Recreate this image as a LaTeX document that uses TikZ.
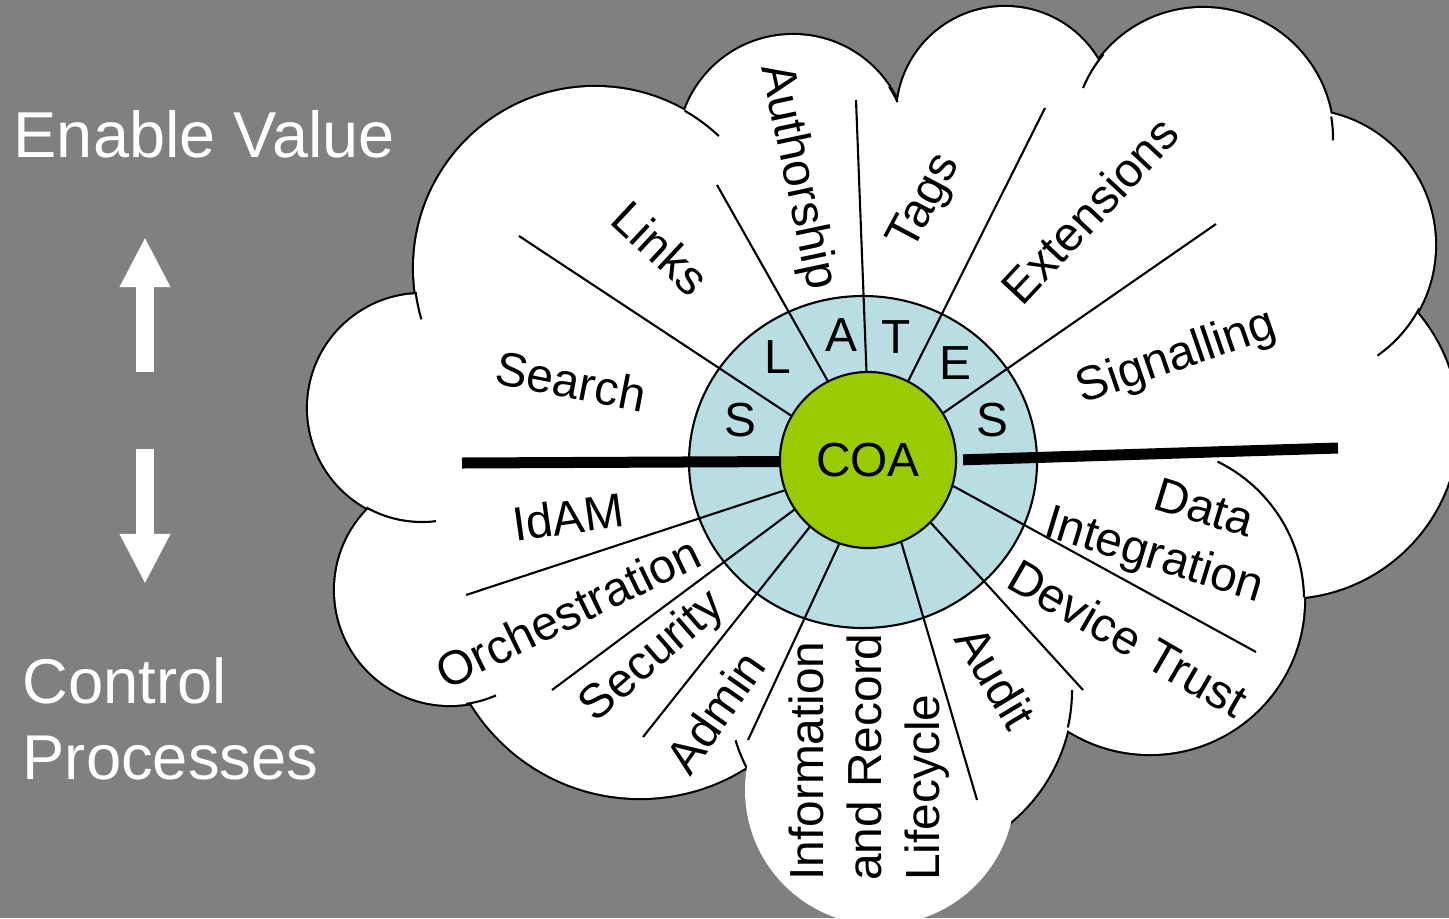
\documentclass[tikz,border=0pt]{standalone}
\usepackage{fontspec}
\setmainfont{Liberation Sans}
\usetikzlibrary{arrows.meta}
\definecolor{bggray}{RGB}{128,128,128}
\definecolor{ringblue}{RGB}{184,222,227}
\definecolor{coagreen}{RGB}{153,204,0}

\begin{document}
\begin{tikzpicture}[x=0.01cm, y=0.01cm,
    rim/.style = {line width=0.6pt},
    spoke/.style = {line width=0.6pt},
    bar/.style = {line width=0.11cm},
    lbl/.style = {inner sep=0pt, font=\fontsize{13.6}{16.6}\selectfont},
    side/.style = {inner sep=0pt, text=white, font=\fontsize{18}{21.6}\selectfont},
    updown/.style = {white, line width=0.18cm, -{Triangle[width=0.47cm, length=0.5cm]}}]

  \useasboundingbox (0,0) rectangle (1449,-918);
  \fill[bggray] (0,0) rectangle (1449,-918);
  \clip (0,0) rectangle (1449,-918);

  % the cloud
  \coordinate (c1) at (450,-590);
  \coordinate (c2) at (422,-408);
  \coordinate (c3) at (595,-268);
  \coordinate (c4) at (793,-150);
  \coordinate (c5) at (1005,-115);
  \coordinate (c6) at (1203,-138);
  \coordinate (c7) at (1300,-245);
  \coordinate (c8) at (1285,-425);
  \coordinate (c9) at (1150,-600);
  \coordinate (c10) at (900,-690);
  \coordinate (c11) at (640,-600);
  \draw[line width=1.2pt] (c1) circle (115) (c2) circle (114) (c3) circle (181)
    (c4) circle (115) (c5) circle (108) (c6) circle (130) (c7) circle (135)
    (c8) circle (173) (c9) circle (154) (c10) circle (172) (c11) circle (198);
  \fill[white] (c1) circle (115) (c2) circle (114) (c3) circle (181)
    (c4) circle (115) (c5) circle (108) (c6) circle (130) (c7) circle (135)
    (c8) circle (173) (c9) circle (154) (c10) circle (172) (c11) circle (198);
  \fill[white] (c2) -- (c3) -- (c4) -- (c5) -- (c6) -- (c7) -- (c8) -- (c9)
    -- (c10) -- (c11) -- (c1) -- cycle;
  \draw[rim] (c3) ++(187.6:181) arc[start angle=187.6, end angle=196.5, radius=181];
  \draw[rim] (c3) ++(60.3:181) arc[start angle=60.3, end angle=46.8, radius=181];
  \draw[rim] (c4) ++(33.3:115) arc[start angle=33.3, end angle=24.6, radius=115];
  \draw[rim] (c6) ++(140:130) arc[start angle=140, end angle=157.4, radius=130];
  \draw[rim] (c6) ++(9.5:130) arc[start angle=9.5, end angle=-1, radius=130];
  \draw[rim] (c7) ++(-28:135) arc[start angle=-28, end angle=-55, radius=135];
  \draw[rim] (c9) ++(1:154) arc[start angle=1, end angle=64, radius=154];
  \draw[rim] (c10) ++(-12.6:172) arc[start angle=-12.6, end angle=0, radius=172];
  \draw[rim] (c10) ++(209.6:172) arc[start angle=209.6, end angle=197, radius=172];
  \draw[rim] (c2) ++(240.8:114) arc[start angle=240.8, end angle=277, radius=114];
  \draw[rim] (c1) ++(-81.9:115) arc[start angle=-81.9, end angle=-66.4, radius=115];
  \fill[white] (880,-790) circle (135);

  % ring and centre
  \draw[rim, fill=ringblue] (863,-462) ellipse [x radius=174, y radius=166];
  \node[lbl, rim, circle, draw, fill=coagreen, minimum size=1.76cm] (coa) at (868,-460) {COA};

  \coordinate (end1) at (519,-236);
  \coordinate (end2) at (717,-185);
  \coordinate (end3) at (856,-100);
  \coordinate (end4) at (1045,-108);
  \coordinate (end5) at (1216,-224);
  \coordinate (end6) at (1256,-652);
  \coordinate (end7) at (1083,-690);
  \coordinate (end8) at (977,-800);
  \coordinate (end9) at (748,-740);
  \coordinate (end10) at (643,-737);
  \coordinate (end11) at (552,-690);
  \coordinate (end12) at (466,-595);
  \draw[spoke] (coa.150) -- (end1);
  \draw[spoke] (coa.117) -- (end2);
  \draw[spoke] (coa.91) -- (end3);
  \draw[spoke] (coa.63) -- (end4);
  \draw[spoke] (coa.32) -- (end5);
  \draw[spoke] (coa.-17) -- (end6);
  \draw[spoke] (coa.-45) -- (end7);
  \draw[spoke] (coa.-68) -- (end8);
  \draw[spoke] (coa.251) -- (end9);
  \draw[spoke] (coa.229) -- (end10);
  \draw[spoke] (coa.214) -- (end11);
  \draw[spoke] (coa.200) -- (end12);

  \coordinate (barleft) at (462,-463);
  \coordinate (barright) at (1338,-448);
  \draw[bar] (barleft) -- (coa.181);
  \draw[bar, shorten <=1.7pt] (coa.0) -- (barright);

  % SLATES
  \node[lbl] (s1) at (740,-420) {S};
  \node[lbl] (l) at (778,-357) {L};
  \node[lbl] (a) at (841,-335) {A};
  \node[lbl] (t) at (896,-337) {T};
  \node[lbl] (e) at (955,-363) {E};
  \node[lbl] (s2) at (992,-420) {S};

  % upper labels
  \node[lbl, rotate=-11] (search) at (571,-381) {Search};
  \node[lbl, rotate=-43] (links) at (661,-248) {Links};
  \node[lbl, rotate=-78] (authorship) at (797,-177) {Authorship};
  \node[lbl, rotate=62] (tags) at (926,-203) {Tags};
  \node[lbl, rotate=47] (extensions) at (1090,-210) {Extensions};
  \node[lbl, rotate=19] (signalling) at (1177,-358) {Signalling};

  % lower labels
  \node[lbl, rotate=-17, align=right] (dataint) at (1162,-530) {Data\hspace*{0.6em}\\Integration};
  \node[lbl, rotate=-30] (devtrust) at (1128,-638) {Device Trust};
  \node[lbl, rotate=-59] (audit) at (996,-677) {Audit};
  \node[lbl, rotate=90, align=left] (lifecycle) at (869,-757) {Information\\and Record\\Lifecycle};
  \node[lbl, rotate=55] (admin) at (715,-712) {Admin};
  \node[lbl, rotate=41] (security) at (653,-657) {Security};
  \node[lbl, rotate=26] (orch) at (568,-612) {Orchestration};
  \node[lbl, rotate=8] (idam) at (568,-517) {IdAM};

  % left side
  \node[side, anchor=base west, font=\fontsize{18.45}{22}\selectfont] (enable) at (13,-157) {Enable Value};
  \node[side, anchor=north west, align=left] (control) at (22,-657) {Control\\Processes};
  \coordinate (upbot) at (145,-372);
  \coordinate (uptip) at (145,-237);
  \coordinate (downtop) at (145,-449);
  \coordinate (downtip) at (145,-584);
  \draw[updown] (upbot) -- (uptip);
  \draw[updown] (downtop) -- (downtip);
\end{tikzpicture}
\end{document}
